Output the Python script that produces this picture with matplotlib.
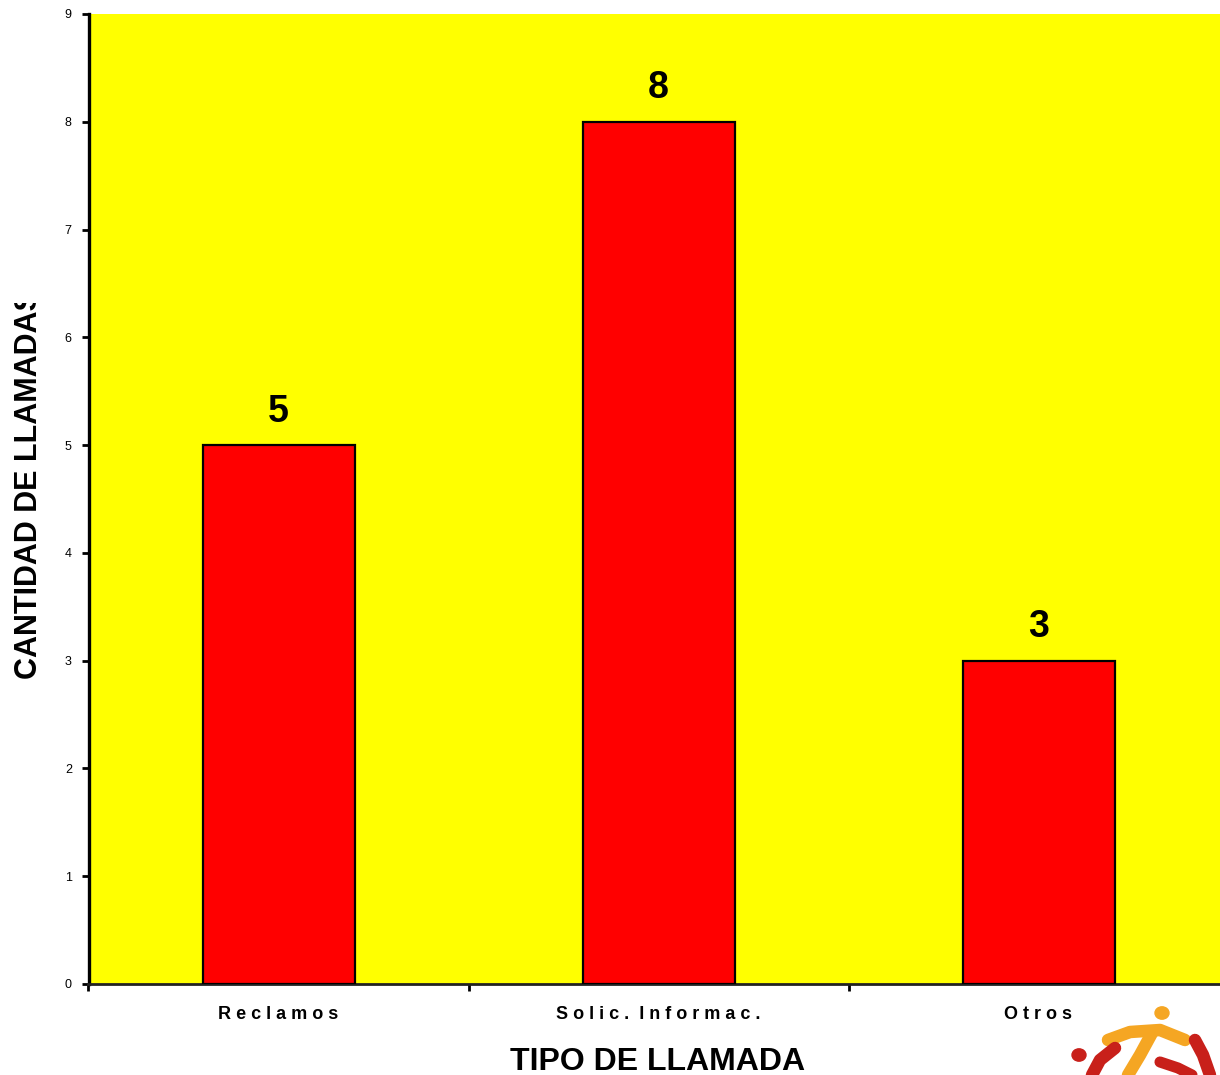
import matplotlib
matplotlib.use("Agg")
import matplotlib.pyplot as plt
from matplotlib.transforms import Bbox, TransformedBbox
from matplotlib.patches import Circle
from matplotlib.lines import Line2D

plt.rcParams['font.family'] = ['Liberation Sans', 'DejaVu Sans']

categories = ["Reclamos", "Solic. Informac.", "Otros"]
values = [5, 8, 3]
y_ticks = list(range(0, 10))
x_title = "TIPO DE LLAMADA"
y_title = "CANTIDAD DE LLAMADAS"

W, H = 1220, 1075
fig = plt.figure(figsize=(W / 100, H / 100), dpi=100)
fig.patch.set_facecolor("white")

ax = fig.add_axes([88.5 / W, (H - 984) / H, 1140 / W, 970 / H])
ax.set_facecolor("#FFFF00")

x = list(range(len(categories)))
ax.bar(x, values, width=0.4, color="#FF0000", edgecolor="black", linewidth=1.6, zorder=3)

for xi, v in zip(x, values):
    ax.annotate(str(v), (xi, v), xytext=(0, 17), textcoords="offset points",
                ha="center", va="baseline", fontsize=27, fontweight="bold", color="black")

ax.set_xlim(-0.5, len(categories) - 0.5)
ax.set_ylim(0, 9)
ax.set_yticks(y_ticks)
ax.set_yticklabels([str(t) for t in y_ticks], fontsize=9)
ax.tick_params(axis="y", direction="out", length=5, width=2, pad=7)


def spaced(s):
    words = s.split(" ")
    return "  ".join(" ".join(w) for w in words)


ax.set_xticks(x)
ax.set_xticklabels([spaced(c) for c in categories], fontsize=13, fontweight="bold")
ax.set_xticks([i - 0.5 for i in range(len(categories) + 1)], minor=True)
ax.tick_params(axis="x", which="major", length=0, pad=16)
ax.tick_params(axis="x", which="minor", direction="out", length=5, width=2)

for side in ["top", "right"]:
    ax.spines[side].set_visible(False)
ax.spines["left"].set_linewidth(2.4)
ax.spines["bottom"].set_linewidth(2.0)
ax.spines["bottom"].set_color("#222222")

fig.text(658 / W, 1 - 1062 / H, x_title, ha="center", va="center",
         fontsize=23, fontweight="bold")

yl = fig.text(29 / W, 1 - 485 / H, y_title, ha="center", va="center",
              rotation=90, fontsize=22, fontweight="bold")
clip = TransformedBbox(Bbox([[0, 0], [80 / W, (H - 303) / H]]), fig.transFigure)
yl.set_clip_box(clip)
yl.set_clip_on(True)

# decorative logo (bottom right)
def fx(px):
    return px / W


def fy(py):
    return 1 - py / H


fig.patches.append(Circle((fx(1162), fy(1013)), 7 / W, transform=fig.transFigure,
                          color="#F5A623", zorder=5))
fig.patches.append(Circle((fx(1079), fy(1055)), 7 / W, transform=fig.transFigure,
                          color="#C8201A", zorder=5))
logo_lines = [
    ([1108, 1130, 1160, 1185], [1040, 1032, 1030, 1040], "#F5A623", 9),
    ([1152, 1140, 1128], [1033, 1055, 1075], "#F5A623", 9),
    ([1092, 1100, 1115], [1075, 1060, 1048], "#C8201A", 9),
    ([1195, 1203, 1210], [1040, 1055, 1075], "#C8201A", 9),
    ([1160, 1178, 1192], [1062, 1068, 1075], "#C8201A", 8),
]
for xs, ys, col, lw in logo_lines:
    fig.lines.append(Line2D([fx(v) for v in xs], [fy(v) for v in ys], transform=fig.transFigure,
                            color=col, linewidth=lw, solid_capstyle="round", zorder=5))

fig.savefig("out.png", dpi=100, facecolor="white")
